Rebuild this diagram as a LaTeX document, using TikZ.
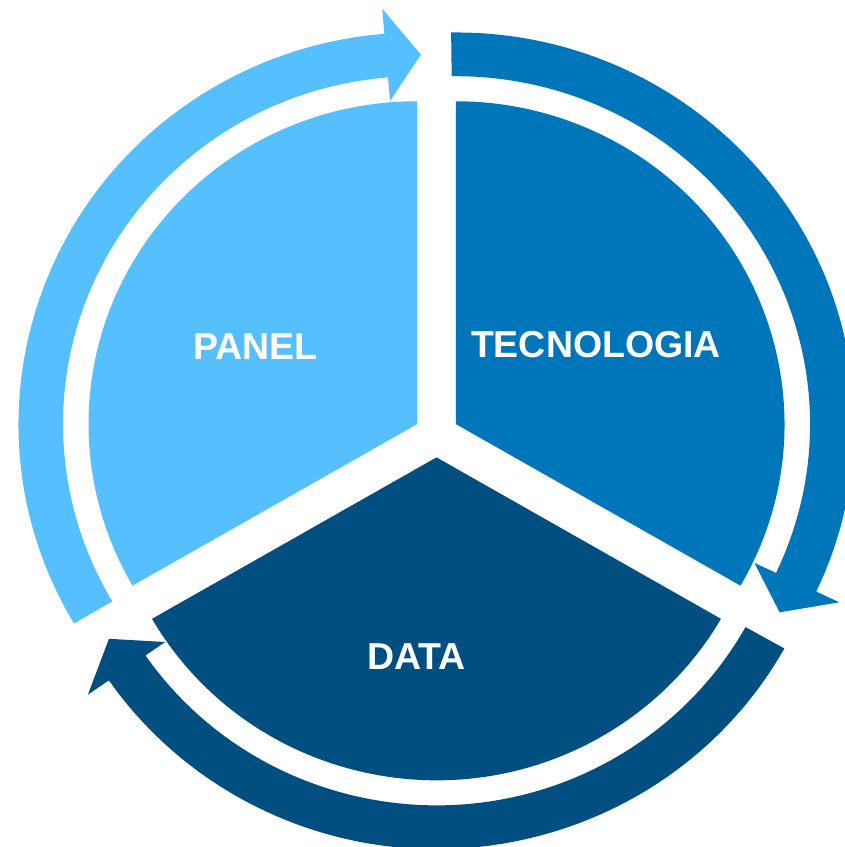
\documentclass[tikz,border=0pt]{standalone}
\usepackage{fontspec}
\setmainfont{Liberation Sans}
\definecolor{cLight}{HTML}{56BFFE}
\definecolor{cMid}{HTML}{0076BA}
\definecolor{cDark}{HTML}{004F80}
\newcommand\RingArrow[3]{%
  \fill[#1] (#2:398.5) arc[start angle=#2, end angle=#3+4.7, radius=398.5]
    -- (#3+4.7:424) -- (#3-0.6:376) -- (#3+4.7:330) -- (#3+4.7:354)
    arc[start angle=#3+4.7, end angle=#2, radius=354] -- cycle;}
\begin{document}
\begin{tikzpicture}[x=0.3mm,y=0.3mm,
  lbl/.style={text=white,font=\fontsize{32}{36}\selectfont\bfseries,inner sep=0pt}]
\useasboundingbox (0,0) rectangle (844,847);
\begin{scope}[shift={(436.5,411.75)},yscale=0.983]
  % sectors
  \fill[cLight] (150:22.5) -- ++(90:328.5) arc[start angle=90,end angle=210,radius=328.5] -- cycle;
  \fill[cMid] (30:22.5) -- ++(-30:328.5) arc[start angle=-30,end angle=90,radius=328.5] -- cycle;
  \fill[cDark] (270:22.5) -- ++(210:328.5) arc[start angle=210,end angle=330,radius=328.5] -- cycle;
  % ring arrows
  \begin{scope}[shift={(150:22.5)}]
    \RingArrow{cLight}{210.6}{90}
  \end{scope}
  \begin{scope}[shift={(30:22.5)}]
    \RingArrow{cMid}{90.7}{-30}
  \end{scope}
  \begin{scope}[shift={(270:22.5)}]
    \RingArrow{cDark}{330.8}{210}
  \end{scope}
\end{scope}
\node[lbl] (panel) at (255.5,500.5) {PANEL};
\node[lbl] (tecno) at (596,502) {TECNOLOGIA};
\node[lbl] (data) at (416.5,190) {DATA};
\end{tikzpicture}
\end{document}
